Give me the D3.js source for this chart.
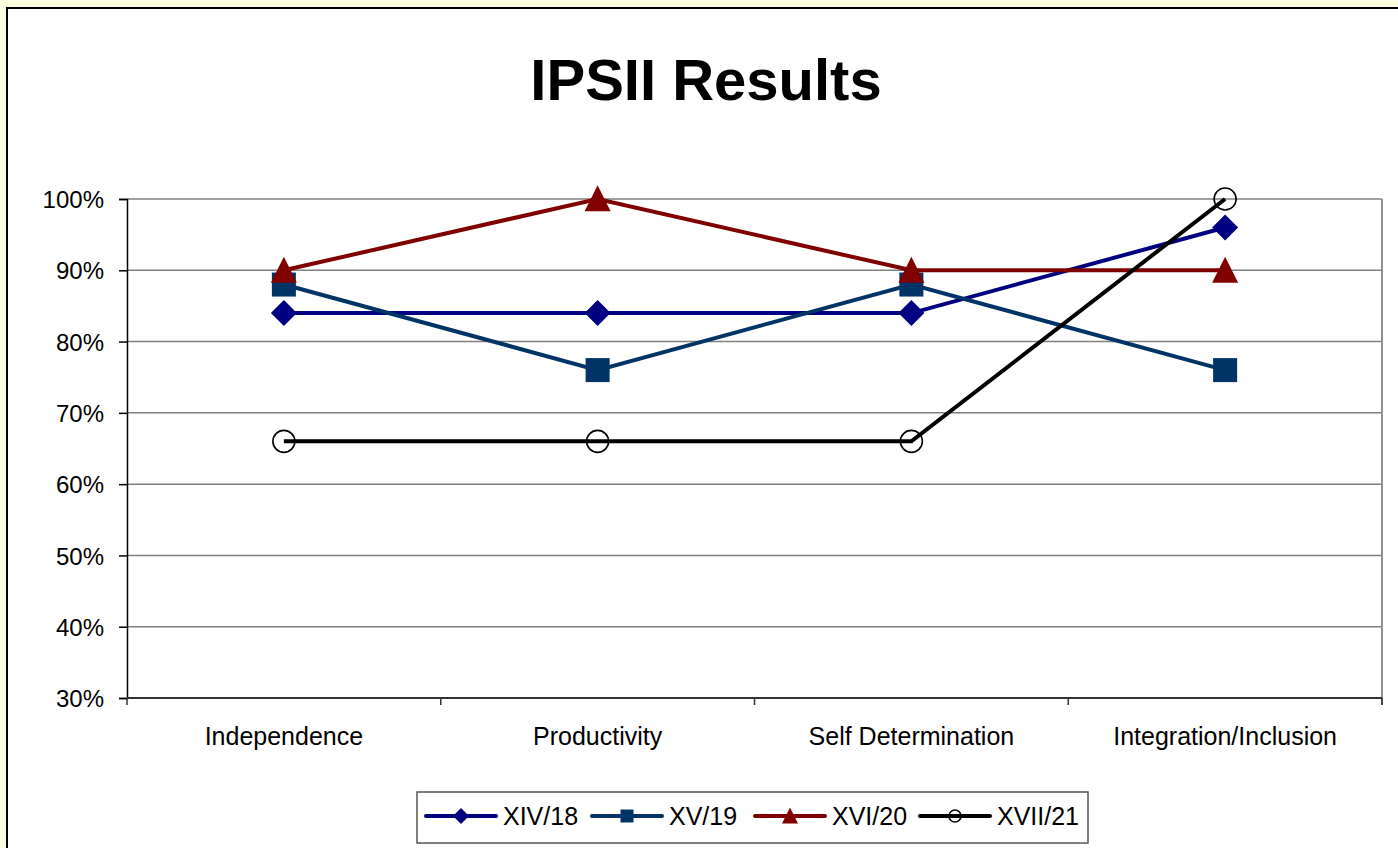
<!DOCTYPE html>
<html>
<head>
<meta charset="utf-8">
<script src="https://cdn.jsdelivr.net/npm/d3@7"></script>
<style>
  html, body { margin: 0; padding: 0; background: #ffffe1; }
  svg { display: block; font-family: "Liberation Sans", Arial, sans-serif; }
</style>
</head>
<body>
<svg id="chart"></svg>
<script>
// chart values
const categories = ["Independence", "Productivity", "Self Determination", "Integration/Inclusion"];
const seriesNames = ["XIV/18", "XV/19", "XVI/20", "XVII/21"];
const xiv18 = [84, 84, 84, 96];
const xv19 = [88, 76, 88, 76];
const xvi20 = [90, 100, 90, 90];
const xvii21 = [66, 66, 66, 100];
const yTicks = [30, 40, 50, 60, 70, 80, 90, 100];

const colors = ["#000080", "#003366", "#800000", "#000000"];
const shapes = ["diamond", "square", "triangle", "circle"];
const seriesValues = [xiv18, xv19, xvi20, xvii21];

const W = 1398, H = 848;
const svg = d3.select("#chart").attr("width", W).attr("height", H);

// white chart frame
svg.append("rect")
  .attr("x", 7).attr("y", 8)
  .attr("width", W + 10).attr("height", H + 10)
  .attr("fill", "#fff").attr("stroke", "#000").attr("stroke-width", 2);

// title
svg.append("text")
  .attr("x", 706).attr("y", 100)
  .attr("text-anchor", "middle")
  .attr("font-size", 58).attr("font-weight", "bold")
  .text("IPSII Results");

const plotLeft = 127, plotRight = 1382, plotTop = 199, plotBottom = 698;

const x = d3.scaleBand().domain(categories).range([plotLeft, plotRight]);
const y = d3.scaleLinear().domain([30, 100]).range([plotBottom, plotTop]);

// gridlines
svg.append("g").selectAll("line")
  .data(yTicks.filter(t => t > 30))
  .enter().append("line")
  .attr("x1", plotLeft).attr("x2", plotRight)
  .attr("y1", d => y(d)).attr("y2", d => y(d))
  .attr("stroke", "#808080").attr("stroke-width", 1.5);

// right border of plot area
svg.append("line")
  .attr("x1", plotRight).attr("x2", plotRight)
  .attr("y1", plotTop).attr("y2", plotBottom + 7)
  .attr("stroke", "#909090").attr("stroke-width", 2);

// y axis
const yAxis = svg.append("g")
  .attr("transform", `translate(${plotLeft},0)`)
  .call(d3.axisLeft(y).tickValues(yTicks).tickSize(8).tickPadding(15).tickFormat(d => d + "%"));
yAxis.select(".domain").attr("stroke", "#000").attr("stroke-width", 1.5);
yAxis.selectAll(".tick line").attr("stroke", "#000").attr("stroke-width", 1.5);
yAxis.selectAll("text").attr("font-size", 24).attr("fill", "#000")
  .attr("font-family", "Liberation Sans, Arial, sans-serif").attr("dy", "0.36em");

// x axis line + boundary ticks
svg.append("line")
  .attr("x1", plotLeft).attr("x2", plotRight)
  .attr("y1", plotBottom).attr("y2", plotBottom)
  .attr("stroke", "#333").attr("stroke-width", 2);
const bounds = categories.map(c => x(c)).concat([plotRight]);
svg.append("g").selectAll("line")
  .data(bounds)
  .enter().append("line")
  .attr("x1", d => d).attr("x2", d => d)
  .attr("y1", plotBottom).attr("y2", plotBottom + 7)
  .attr("stroke", "#333").attr("stroke-width", 1.5);

svg.append("g").selectAll("text")
  .data(categories)
  .enter().append("text")
  .attr("x", d => x(d) + x.bandwidth() / 2)
  .attr("y", 745)
  .attr("text-anchor", "middle")
  .attr("font-size", 25)
  .text(d => d);

function drawMarker(g, shape, color, cx, cy, s) {
  if (shape === "diamond") {
    g.append("path")
      .attr("d", `M${cx},${cy - s}L${cx + s},${cy}L${cx},${cy + s}L${cx - s},${cy}Z`)
      .attr("fill", color);
  } else if (shape === "square") {
    g.append("rect")
      .attr("x", cx - s).attr("y", cy - s)
      .attr("width", 2 * s).attr("height", 2 * s)
      .attr("fill", color);
  } else if (shape === "triangle") {
    g.append("path")
      .attr("d", `M${cx},${cy - s * 1.05}L${cx + s},${cy + s * 0.95}L${cx - s},${cy + s * 0.95}Z`)
      .attr("fill", color);
  } else {
    g.append("circle")
      .attr("cx", cx).attr("cy", cy).attr("r", s)
      .attr("fill", "none").attr("stroke", color).attr("stroke-width", 1.6);
  }
}

const line = d3.line()
  .x((d, i) => x(categories[i]) + x.bandwidth() / 2)
  .y(d => y(d));

const markerSize = [13, 12, 13, 11];

seriesValues.forEach((vals, si) => {
  const g = svg.append("g");
  g.append("path")
    .attr("d", line(vals))
    .attr("fill", "none")
    .attr("stroke", colors[si])
    .attr("stroke-width", 4);
  vals.forEach((v, i) => {
    drawMarker(g, shapes[si], colors[si], x(categories[i]) + x.bandwidth() / 2, y(v), markerSize[si]);
  });
});

// legend
svg.append("rect")
  .attr("x", 417).attr("y", 792)
  .attr("width", 671).attr("height", 51)
  .attr("fill", "#fff").attr("stroke", "#555").attr("stroke-width", 1.5);

const legendX = [426, 592, 755, 920];
seriesNames.forEach((name, si) => {
  const g = svg.append("g");
  const lx = legendX[si], ly = 816;
  g.append("line")
    .attr("x1", lx).attr("x2", lx + 70)
    .attr("y1", ly).attr("y2", ly)
    .attr("stroke", colors[si]).attr("stroke-width", 4)
    .attr("stroke-linecap", "round");
  drawMarker(g, shapes[si], colors[si], lx + 35, ly, [8, 6.5, 8, 6][si]);
  g.append("text")
    .attr("x", lx + 77).attr("y", 825)
    .attr("font-size", 25)
    .text(name);
});
</script>
</body>
</html>
